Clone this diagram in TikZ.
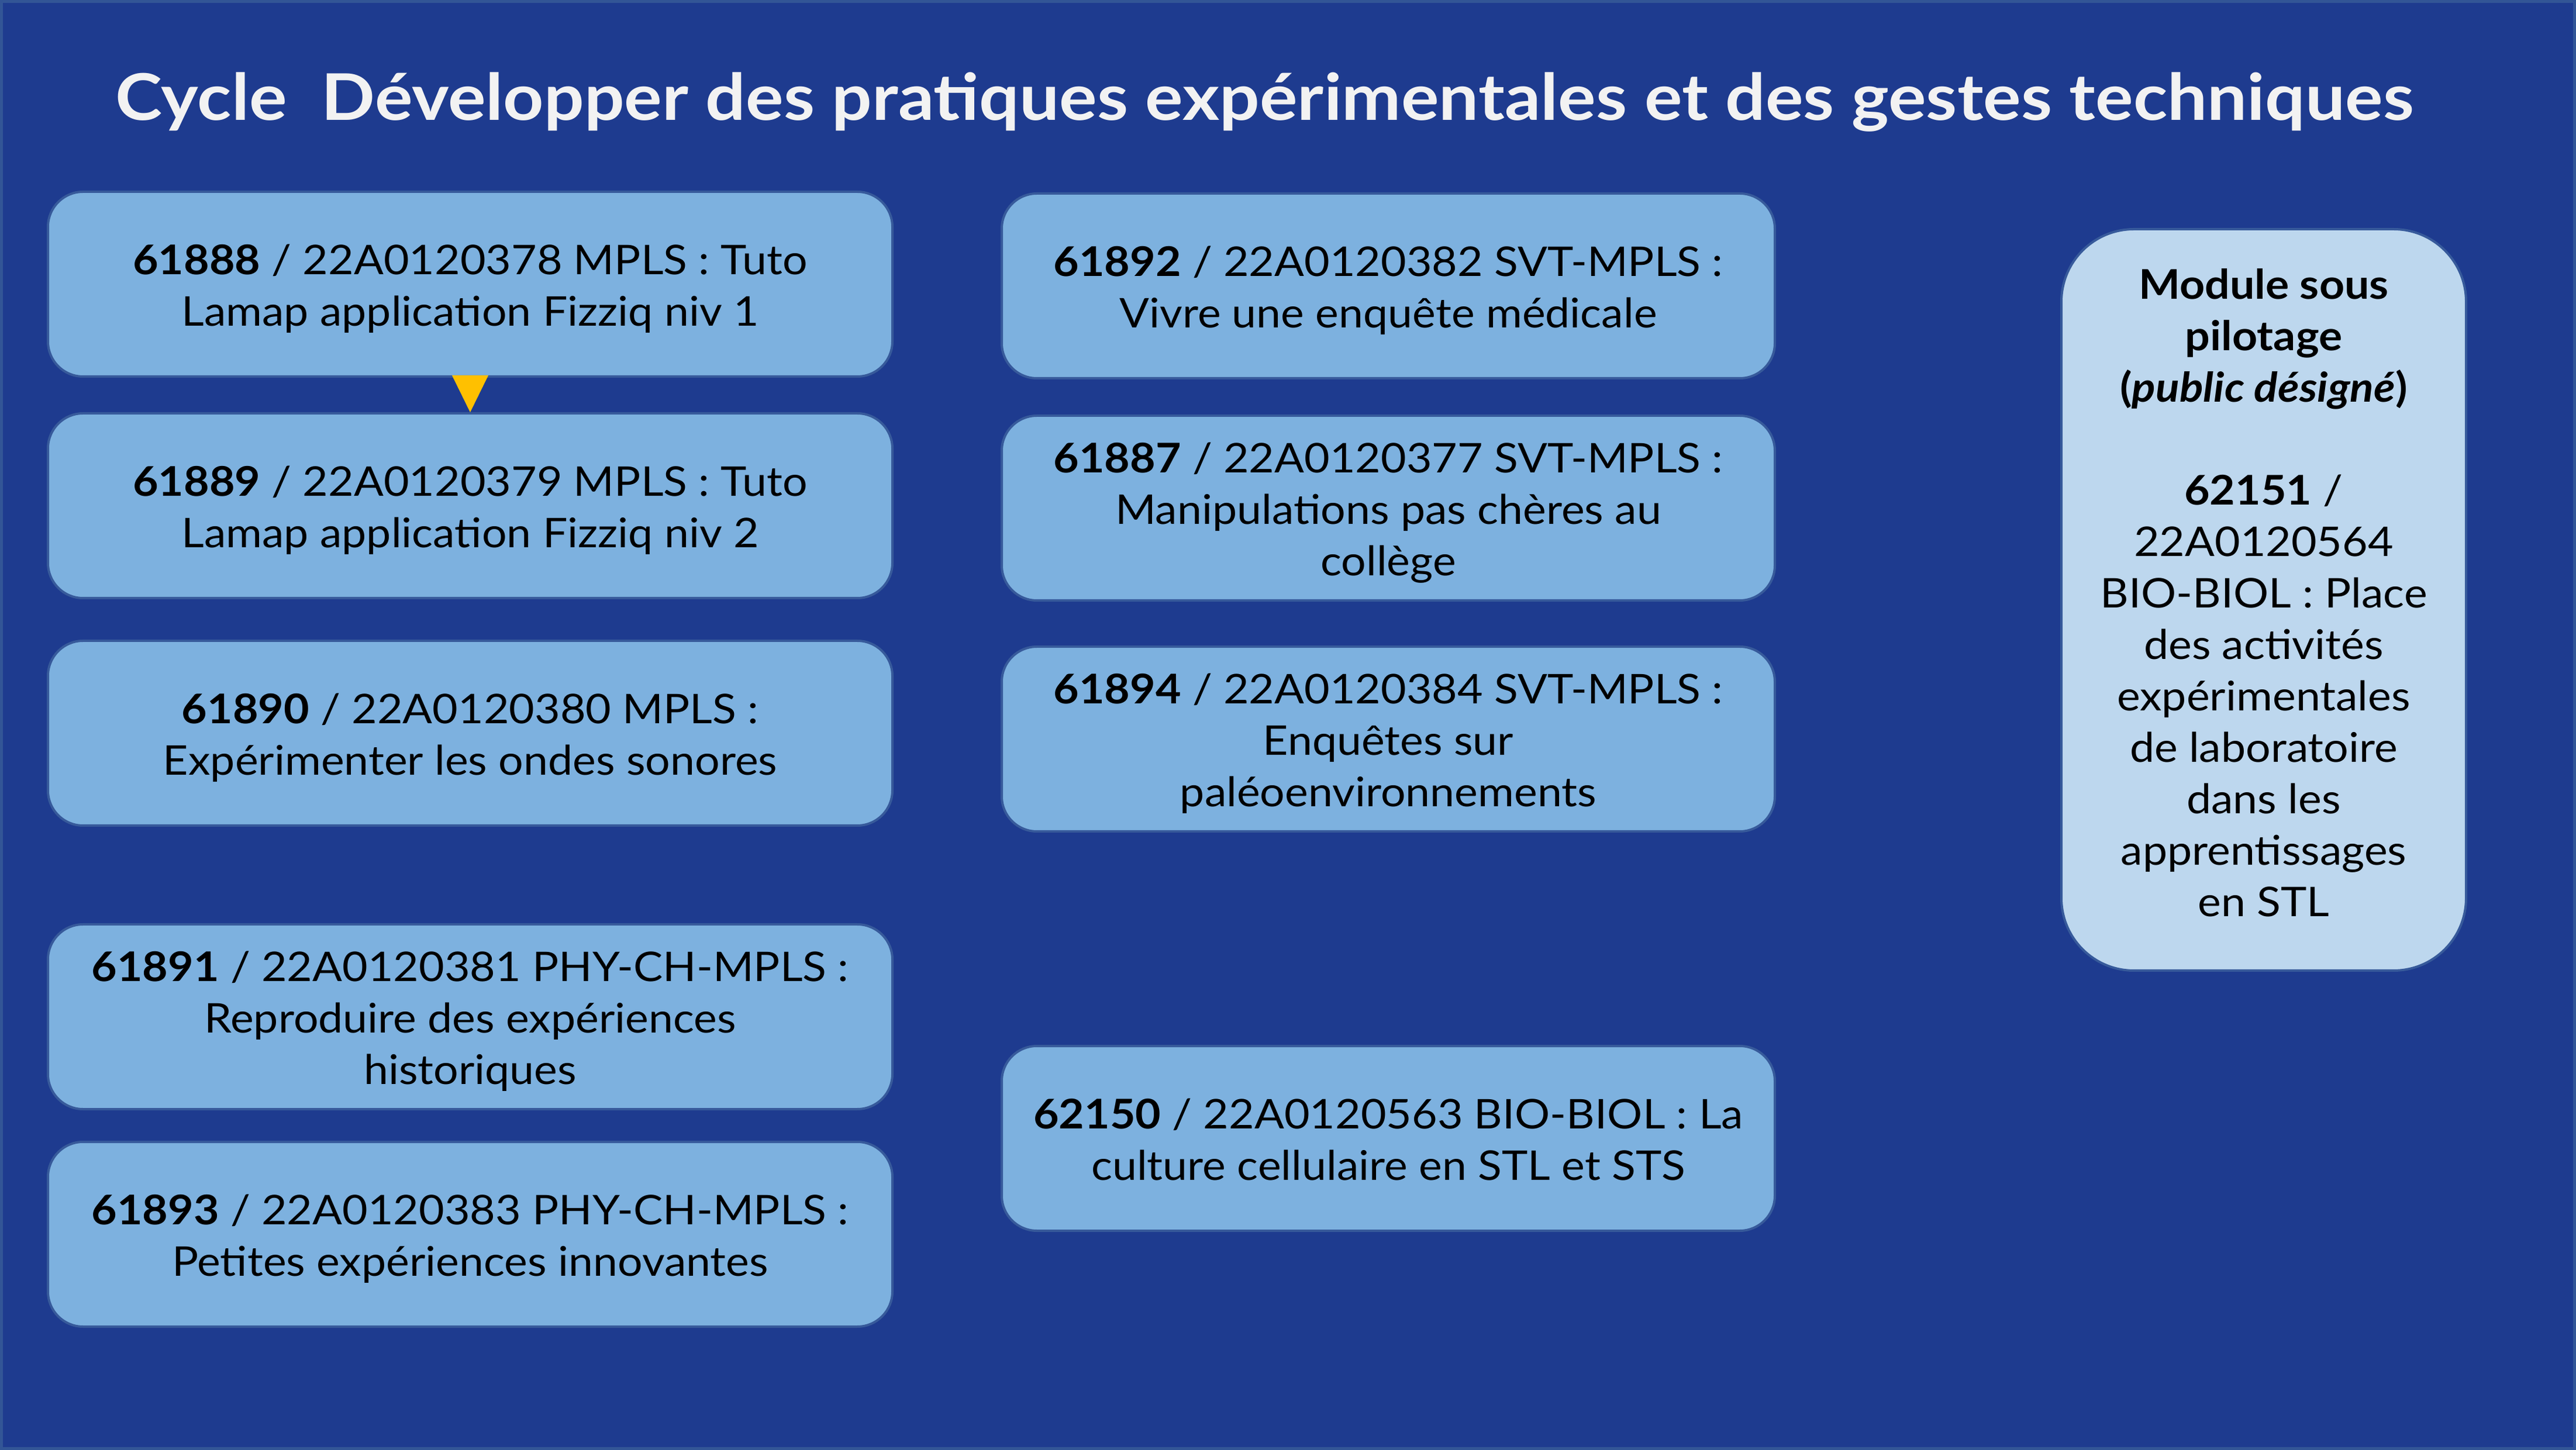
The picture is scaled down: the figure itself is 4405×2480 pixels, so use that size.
\documentclass[tikz,border=0pt]{standalone}
\usepackage{fontspec}
\setmainfont{Lato}[FakeStretch=1.075]
\newfontfamily\titlefont{Lato}[FakeStretch=1.10]
\usetikzlibrary{arrows.meta}
\definecolor{bgblue}{RGB}{30,59,143}
\definecolor{frameblue}{RGB}{50,85,150}
\definecolor{boxfill}{RGB}{125,177,223}
\definecolor{boxline}{RGB}{55,90,155}
\definecolor{sidefill}{RGB}{189,215,238}
\definecolor{titlewhite}{RGB}{242,242,242}
\definecolor{arrowyellow}{RGB}{255,192,0}
\newcommand{\cardlines}[2][-6.9pt]{\raisebox{#1}[0pt][0pt]{\begin{tabular}{@{}c@{}}#2\end{tabular}}}
\tikzset{
  card/.style={draw=boxline, line width=1pt, fill=boxfill, rounded corners=15pt,
    inner sep=0pt, font=\fontsize{17.5}{22}\selectfont, text=black},
  leftcard/.style={card, minimum width=361pt, minimum height=79pt},
  midcard/.style={card, minimum width=330.5pt, minimum height=79pt},
  sidecard/.style={card, fill=sidefill, rounded corners=31pt, minimum width=173pt,
    minimum height=317pt, font=\fontsize{17.5}{22}\selectfont},
  titletext/.style={text=titlewhite, font=\titlefont\bfseries\fontsize{27.5}{33}\selectfont, inner sep=0pt, anchor=base west},
  yarrow/.style={draw=arrowyellow, line width=0.01pt, -{Triangle[length=15.75pt,width=15.5pt,fill=arrowyellow]}}
}
\begin{document}
\begin{tikzpicture}[x=0.25pt,y=-0.25pt]
\fill[frameblue] (0,0) rectangle (4405,2480);
\fill[bgblue] (5,5) rectangle (4400,2475);
\useasboundingbox (0,0) rectangle (4405,2480);
\node[titletext] (title) at (197,206) {Cycle\ \ Développer des pratiques expérimentales et des gestes techniques};

\node[leftcard] (b1) at (804,486) {\cardlines{\textbf{61888} / 22A0120378 MPLS : Tuto\\Lamap application Fizziq niv 1}};
\node[leftcard] (b2) at (804,865) {\cardlines{\textbf{61889} / 22A0120379 MPLS : Tuto\\Lamap application Fizziq niv 2}};
\node[leftcard] (b3) at (804,1254) {\cardlines{\textbf{61890} / 22A0120380 MPLS :\\Expérimenter les ondes sonores}};
\node[leftcard] (b4) at (804,1739) {\cardlines{\textbf{61891} / 22A0120381 PHY-CH-MPLS :\\Reproduire des expériences\\historiques}};
\node[leftcard] (b5) at (804,2111) {\cardlines{\textbf{61893} / 22A0120383 PHY-CH-MPLS :\\Petites expériences innovantes}};

\node[midcard] (m1) at (2374,489) {\cardlines{\textbf{61892} / 22A0120382 SVT-MPLS :\\Vivre une enquête médicale}};
\node[midcard] (m2) at (2374,869) {\cardlines{\textbf{61887} / 22A0120377 SVT-MPLS :\\Manipulations pas chères au\\collège}};
\node[midcard] (m3) at (2374,1264) {\cardlines{\textbf{61894} / 22A0120384 SVT-MPLS :\\Enquêtes sur\\paléoenvironnements}};
\node[midcard] (m4) at (2374,1947) {\cardlines{\textbf{62150} / 22A0120563 BIO-BIOL : La\\culture cellulaire en STL et STS}};

\node[sidecard] (s1) at (3871,1026) {\cardlines[-3.4pt]{\textbf{Module sous}\\\textbf{pilotage}\\\textbf{(\textit{public désigné})}\\[22pt]\textbf{62151} /\\22A0120564\\BIO-BIOL : Place\\des activités\\expérimentales\\de laboratoire\\dans les\\apprentissages\\en STL}};

\draw[yarrow] (b1.south) -- (b2.north);
\end{tikzpicture}
\end{document}
